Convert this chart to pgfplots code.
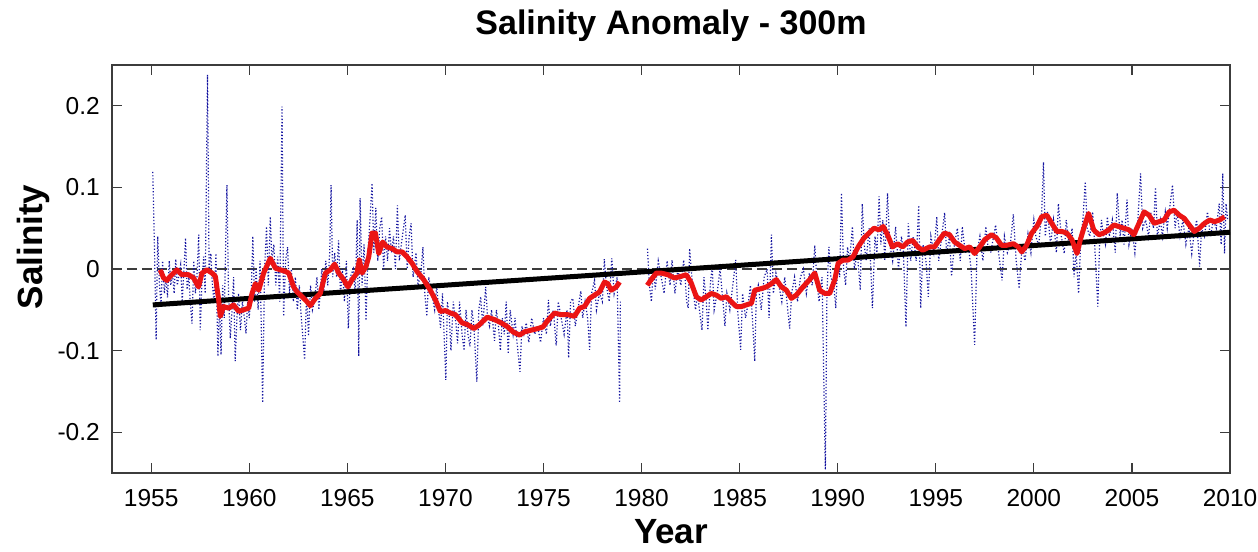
\documentclass[border=0pt]{standalone}
\usepackage{fontspec}
\setmainfont{Liberation Sans}
\usepackage{pgfplots}
\pgfplotsset{compat=1.18}
\definecolor{axgray}{RGB}{60,60,60}
\definecolor{rawblue}{RGB}{20,20,160}
\definecolor{smred}{RGB}{235,20,20}

\begin{document}
\begin{tikzpicture}
\begin{axis}[
    name=ax,
    scale only axis,
    width=1118pt, height=408pt,
    xmin=1953, xmax=2010,
    ymin=-0.25, ymax=0.25,
    xtick={1955,1960,...,2010},
    xticklabels={1955,1960,1965,1970,1975,1980,1985,1990,1995,2000,2005,2010},
    ytick={-0.2,-0.1,0,0.1,0.2},
    yticklabels={-0.2,-0.1,0,0.1,0.2},
    tick align=inside,
    major tick length=10pt,
    axis line style={axgray, line width=1.2pt},
    every tick/.style={axgray, line width=1.2pt},
    tick label style={font=\fontsize{24.5}{28}\selectfont},
    xticklabel style={anchor=base, inner sep=0pt, yshift=-34pt},
    yticklabel style={anchor=east, inner sep=0pt, xshift=-12pt},
    title={Salinity Anomaly - 300m},
    title style={font=\fontsize{34}{40}\selectfont\bfseries, at={(0.5,1)}, anchor=base, yshift=24pt},
    xlabel={Year},
    xlabel style={font=\fontsize{35}{40}\selectfont\bfseries, at={(0.5,0)}, anchor=base, inner sep=0pt, yshift=-71pt},
    ylabel={Salinity},
    ylabel style={font=\fontsize{35}{40}\selectfont\bfseries, at={(-0.0626,0.554)}, anchor=base},
    unbounded coords=jump,
]

% zero line
\addplot[axgray, line width=1.1pt, dash pattern=on 10pt off 5pt] coordinates {(1953,0) (2010,0)};

% monthly values
\addplot[rawblue, line width=1.2pt, dash pattern=on 1.2pt off 2pt] coordinates {
(1955.08,0.119)(1955.17,0.02)(1955.25,-0.087)(1955.33,0.040)(1955.42,-0.020)(1955.50,-0.045)
(1955.58,0.010)(1955.67,-0.030)(1955.75,-0.010)(1955.83,-0.035)(1955.92,0.010)(1956.00,-0.020)
(1956.08,-0.005)(1956.17,-0.030)(1956.25,0.012)(1956.33,-0.020)(1956.50,0.005)(1956.58,-0.040)
(1956.67,0.000)(1956.75,0.038)(1956.83,-0.025)(1956.92,-0.010)(1957.00,-0.045)(1957.08,-0.067)
(1957.17,0.010)(1957.25,-0.030)(1957.33,-0.010)(1957.42,0.042)(1957.50,-0.075)(1957.58,-0.020)
(1957.67,0.015)(1957.75,-0.030)(1957.87,0.238)(1957.95,0.000)(1958.04,0.019)(1958.12,-0.020)
(1958.20,-0.040)(1958.30,0.019)(1958.40,-0.107)(1958.48,-0.040)(1958.56,-0.105)(1958.64,-0.020)
(1958.72,-0.060)(1958.86,0.103)(1958.94,-0.030)(1959.03,-0.085)(1959.12,-0.050)(1959.20,-0.010)
(1959.28,-0.113)(1959.37,-0.060)(1959.45,-0.030)(1959.55,-0.075)(1959.65,-0.040)(1959.75,-0.060)
(1959.83,-0.079)(1959.92,-0.040)(1960.00,-0.060)(1960.10,-0.030)(1960.18,0.040)(1960.27,-0.040)
(1960.35,0.000)(1960.45,-0.050)(1960.55,0.010)(1960.68,-0.164)(1960.78,0.000)(1960.88,0.052)
(1960.97,-0.020)(1961.07,0.064)(1961.15,0.010)(1961.25,0.030)(1961.35,-0.020)(1961.45,0.015)
(1961.55,-0.040)(1961.67,0.199)(1961.75,-0.058)(1961.85,0.010)(1961.95,0.027)(1962.05,-0.030)
(1962.15,0.000)(1962.25,-0.040)(1962.35,-0.010)(1962.45,-0.050)(1962.55,-0.020)(1962.65,-0.060)
(1962.82,-0.111)(1962.92,-0.030)(1963.02,-0.082)(1963.12,-0.020)(1963.22,-0.050)(1963.32,-0.040)
(1963.45,-0.010)(1963.55,-0.050)(1963.70,0.000)(1963.80,-0.030)(1963.90,0.010)(1964.00,-0.020)
(1964.10,0.020)(1964.17,0.103)(1964.25,-0.010)(1964.35,0.020)(1964.45,-0.010)(1964.55,0.035)
(1964.65,-0.030)(1964.75,0.000)(1964.85,-0.040)(1964.95,0.010)(1965.05,-0.073)(1965.15,-0.010)
(1965.30,0.000)(1965.40,-0.030)(1965.50,0.060)(1965.58,-0.107)(1965.65,0.087)(1965.75,-0.020)
(1965.85,0.030)(1965.95,-0.063)(1966.05,0.020)(1966.15,0.060)(1966.26,0.105)(1966.35,0.020)
(1966.45,0.075)(1966.55,0.010)(1966.65,0.050)(1966.75,0.064)(1966.85,0.000)(1966.95,0.040)
(1967.05,0.010)(1967.15,0.050)(1967.25,0.020)(1967.35,0.040)(1967.45,0.000)(1967.55,0.078)
(1967.65,0.010)(1967.75,0.030)(1967.95,0.066)(1968.05,0.000)(1968.15,0.040)(1968.25,0.056)
(1968.35,-0.010)(1968.50,0.020)(1968.60,-0.020)(1968.75,-0.005)(1968.85,0.027)(1968.95,-0.030)
(1969.05,-0.058)(1969.15,-0.010)(1969.30,-0.030)(1969.45,-0.050)(1969.55,-0.020)(1969.65,-0.050)
(1969.75,-0.072)(1969.85,-0.030)(1970.02,-0.136)(1970.10,-0.040)(1970.20,-0.060)(1970.28,-0.100)
(1970.40,-0.040)(1970.55,-0.070)(1970.62,-0.091)(1970.72,-0.040)(1970.85,-0.080)(1970.95,-0.100)
(1971.05,-0.050)(1971.15,-0.080)(1971.25,-0.095)(1971.35,-0.050)(1971.45,-0.070)(1971.60,-0.138)
(1971.70,-0.050)(1971.80,-0.034)(1971.90,-0.070)(1972.05,-0.022)(1972.15,-0.060)(1972.25,-0.070)
(1972.35,-0.050)(1972.50,-0.088)(1972.60,-0.050)(1972.70,-0.070)(1972.80,-0.100)(1972.90,-0.060)
(1973.00,-0.080)(1973.10,-0.040)(1973.20,-0.104)(1973.30,-0.050)(1973.45,-0.080)(1973.55,-0.060)
(1973.65,-0.090)(1973.80,-0.126)(1973.90,-0.070)(1974.00,-0.080)(1974.12,-0.066)(1974.25,-0.090)
(1974.40,-0.060)(1974.55,-0.080)(1974.70,-0.070)(1974.85,-0.090)(1975.00,-0.060)(1975.15,-0.080)
(1975.25,-0.038)(1975.35,-0.070)(1975.50,-0.050)(1975.65,-0.094)(1975.75,-0.040)(1975.90,-0.060)
(1976.05,-0.080)(1976.20,-0.050)(1976.28,-0.109)(1976.38,-0.040)(1976.50,-0.036)(1976.62,-0.070)
(1976.75,-0.050)(1976.90,-0.027)(1977.00,-0.060)(1977.12,-0.040)(1977.25,-0.060)(1977.35,-0.099)
(1977.45,-0.030)(1977.60,-0.014)(1977.70,-0.050)(1977.85,-0.030)(1978.00,-0.040)(1978.10,0.012)
(1978.20,-0.020)(1978.35,-0.040)(1978.48,0.013)(1978.60,-0.030)(1978.75,-0.010)(1978.88,-0.164)
(1978.92,-0.040)(1979.5,nan)
(1980.30,0.025)(1980.40,-0.020)(1980.50,-0.040)(1980.60,0.000)(1980.70,-0.025)(1980.85,0.010)
(1981.00,-0.010)(1981.15,-0.030)(1981.30,0.010)(1981.45,-0.020)(1981.55,0.011)(1981.70,-0.030)
(1981.85,0.000)(1982.00,-0.020)(1982.15,0.011)(1982.30,-0.040)(1982.38,-0.048)(1982.45,0.025)
(1982.60,-0.020)(1982.75,-0.050)(1982.85,-0.030)(1983.00,-0.060)(1983.08,-0.075)(1983.18,-0.010)
(1983.30,-0.040)(1983.38,-0.075)(1983.50,-0.020)(1983.60,0.003)(1983.70,-0.050)(1983.85,-0.030)
(1984.00,0.000)(1984.15,-0.040)(1984.25,-0.070)(1984.35,-0.030)(1984.50,-0.050)(1984.65,-0.020)
(1984.80,0.011)(1984.90,-0.050)(1985.05,-0.099)(1985.15,-0.030)(1985.30,-0.060)(1985.45,-0.040)
(1985.55,-0.020)(1985.65,-0.060)(1985.77,-0.113)(1985.85,-0.030)(1985.95,-0.020)(1986.10,-0.050)
(1986.25,-0.010)(1986.40,0.000)(1986.50,-0.060)(1986.62,0.042)(1986.72,-0.030)(1986.85,-0.005)
(1987.00,-0.020)(1987.15,-0.040)(1987.30,-0.010)(1987.45,-0.050)(1987.55,-0.073)(1987.65,-0.030)
(1987.80,-0.010)(1987.95,-0.040)(1988.10,-0.010)(1988.25,0.000)(1988.40,-0.030)(1988.55,-0.005)
(1988.70,-0.020)(1988.83,0.029)(1988.95,-0.020)(1989.05,-0.040)(1989.20,-0.010)(1989.37,-0.246)
(1989.45,-0.030)(1989.55,0.027)(1989.65,-0.010)(1989.80,-0.020)(1989.90,-0.048)(1990.00,0.010)
(1990.10,-0.010)(1990.19,0.093)(1990.30,0.000)(1990.40,-0.020)(1990.50,0.027)(1990.60,0.010)
(1990.75,0.052)(1990.85,0.000)(1991.00,0.020)(1991.15,-0.026)(1991.25,0.080)(1991.35,0.030)
(1991.45,0.010)(1991.60,0.050)(1991.77,-0.048)(1991.90,0.040)(1992.00,0.020)(1992.11,0.089)
(1992.20,0.030)(1992.30,0.060)(1992.40,0.010)(1992.54,0.093)(1992.65,0.030)(1992.80,0.010)
(1992.95,0.052)(1993.10,0.000)(1993.25,0.040)(1993.35,0.020)(1993.48,-0.071)(1993.60,0.056)
(1993.72,0.010)(1993.85,0.040)(1994.00,0.010)(1994.13,0.078)(1994.23,-0.048)(1994.35,0.030)
(1994.50,0.010)(1994.62,-0.034)(1994.75,0.040)(1994.90,0.020)(1995.05,0.064)(1995.15,0.010)
(1995.30,0.040)(1995.45,0.069)(1995.55,0.020)(1995.70,0.040)(1995.80,-0.009)(1995.95,0.030)
(1996.10,0.050)(1996.25,0.010)(1996.35,0.052)(1996.50,0.020)(1996.65,0.030)(1996.80,0.000)
(1996.98,-0.093)(1997.10,0.020)(1997.25,0.040)(1997.40,0.010)(1997.55,0.052)(1997.65,0.030)
(1997.80,0.020)(1997.95,0.040)(1998.05,0.054)(1998.20,0.020)(1998.38,-0.014)(1998.50,0.040)
(1998.65,0.020)(1998.80,0.030)(1998.95,0.067)(1999.10,0.010)(1999.25,-0.024)(1999.40,0.030)
(1999.55,0.010)(1999.70,0.043)(1999.85,0.020)(2000.00,0.060)(2000.10,0.040)(2000.25,0.029)
(2000.40,0.070)(2000.49,0.131)(2000.58,0.040)(2000.70,0.070)(2000.85,0.030)(2001.00,0.060)
(2001.15,0.020)(2001.25,0.080)(2001.40,0.040)(2001.55,0.019)(2001.65,0.060)(2001.80,0.030)
(2001.95,0.050)(2002.05,-0.010)(2002.15,0.020)(2002.28,-0.030)(2002.40,0.040)(2002.50,0.060)
(2002.62,0.107)(2002.72,0.050)(2002.85,0.040)(2003.00,0.070)(2003.10,0.030)(2003.26,-0.046)
(2003.35,0.030)(2003.45,0.060)(2003.55,0.040)(2003.65,0.030)(2003.75,0.064)(2003.85,0.040)
(2004.00,0.060)(2004.15,0.020)(2004.25,0.093)(2004.40,0.040)(2004.50,0.060)(2004.60,0.030)
(2004.75,0.085)(2004.85,0.030)(2005.00,0.050)(2005.15,0.020)(2005.30,0.060)(2005.44,0.117)
(2005.55,0.050)(2005.70,0.060)(2005.85,0.040)(2005.95,0.070)(2006.10,0.050)(2006.20,0.100)
(2006.30,0.040)(2006.45,0.060)(2006.55,0.040)(2006.70,0.070)(2006.80,0.050)(2006.95,0.080)
(2007.07,0.103)(2007.20,0.050)(2007.30,0.070)(2007.45,0.040)(2007.60,0.060)(2007.75,0.030)
(2007.90,0.050)(2008.05,0.019)(2008.15,0.040)(2008.30,0.060)(2008.45,0.003)(2008.55,0.050)
(2008.70,0.040)(2008.85,0.070)(2009.00,0.040)(2009.15,0.060)(2009.30,0.050)(2009.45,0.080)
(2009.55,0.030)(2009.63,0.117)(2009.72,0.019)(2009.80,0.080)(2009.88,0.060)
};

% linear trend
\addplot[black, line width=5pt] coordinates {(1955.08,-0.044) (2010,0.045)};

% smoothed series
\addplot[smred, line width=5pt, line join=round] coordinates {
(1955.46,-0.001)(1955.63,-0.011)(1955.80,-0.014)(1955.97,-0.009)(1956.31,-0.001)(1956.56,-0.007)
(1956.90,-0.007)(1957.16,-0.011)(1957.41,-0.022)(1957.59,-0.005)(1957.84,-0.001)(1958.10,-0.005)
(1958.27,-0.009)(1958.44,-0.038)(1958.52,-0.058)(1958.69,-0.046)(1958.95,-0.048)(1959.20,-0.044)
(1959.46,-0.052)(1959.71,-0.050)(1959.97,-0.048)(1960.14,-0.030)(1960.31,-0.018)(1960.48,-0.026)
(1960.73,-0.005)(1961.07,0.013)(1961.33,0.001)(1961.58,-0.001)(1961.84,-0.003)(1962.01,-0.005)
(1962.26,-0.022)(1962.43,-0.028)(1962.69,-0.034)(1962.94,-0.040)(1963.11,-0.045)(1963.37,-0.036)
(1963.62,-0.030)(1963.88,-0.005)(1964.13,-0.001)(1964.35,0.006)(1964.56,-0.005)(1964.81,-0.013)
(1965.03,-0.022)(1965.24,-0.013)(1965.49,-0.005)(1965.61,0.011)(1965.75,-0.005)(1965.95,0.003)
(1966.09,0.015)(1966.26,0.044)(1966.43,0.044)(1966.60,0.019)(1966.80,0.033)(1967.02,0.027)
(1967.28,0.025)(1967.53,0.021)(1967.79,0.021)(1968.04,0.015)(1968.30,0.007)(1968.55,-0.003)
(1968.89,-0.013)(1969.23,-0.026)(1969.49,-0.038)(1969.74,-0.052)(1970.00,-0.051)(1970.26,-0.054)
(1970.51,-0.056)(1970.85,-0.066)(1971.11,-0.068)(1971.45,-0.073)(1971.70,-0.069)(1972.13,-0.059)
(1972.50,-0.062)(1972.84,-0.066)(1973.18,-0.071)(1973.44,-0.077)(1973.78,-0.081)(1974.03,-0.077)
(1974.37,-0.075)(1974.71,-0.073)(1974.97,-0.071)(1975.22,-0.063)(1975.56,-0.054)(1975.90,-0.056)
(1976.24,-0.056)(1976.58,-0.058)(1976.84,-0.048)(1977.09,-0.046)(1977.35,-0.036)(1977.60,-0.032)
(1977.86,-0.028)(1978.11,-0.016)(1978.28,-0.018)(1978.45,-0.026)(1978.71,-0.022)(1978.88,-0.016)
(1979.5,nan)
(1980.29,-0.020)(1980.49,-0.013)(1980.75,-0.005)(1981.00,-0.005)(1981.34,-0.007)(1981.68,-0.011)
(1982.02,-0.009)(1982.28,-0.007)(1982.53,-0.017)(1982.79,-0.034)(1983.04,-0.038)(1983.30,-0.034)
(1983.55,-0.030)(1983.81,-0.032)(1984.06,-0.036)(1984.32,-0.034)(1984.57,-0.040)(1984.83,-0.046)
(1985.09,-0.046)(1985.34,-0.044)(1985.60,-0.042)(1985.77,-0.026)(1986.11,-0.024)(1986.36,-0.022)
(1986.62,-0.018)(1986.87,-0.013)(1987.13,-0.022)(1987.38,-0.026)(1987.64,-0.036)(1987.89,-0.032)
(1988.23,-0.022)(1988.57,-0.013)(1988.83,-0.005)(1989.08,-0.026)(1989.34,-0.030)(1989.59,-0.030)
(1989.85,-0.013)(1990.02,0.007)(1990.27,0.011)(1990.53,0.011)(1990.78,0.015)(1991.04,0.027)
(1991.34,0.038)(1991.60,0.044)(1991.85,0.050)(1992.11,0.048)(1992.32,0.052)(1992.54,0.042)
(1992.79,0.027)(1993.05,0.031)(1993.31,0.027)(1993.56,0.033)(1993.82,0.035)(1994.08,0.027)
(1994.33,0.023)(1994.68,0.027)(1994.93,0.027)(1995.19,0.036)(1995.44,0.044)(1995.70,0.042)
(1995.96,0.033)(1996.21,0.029)(1996.47,0.025)(1996.73,0.027)(1996.98,0.019)(1997.24,0.027)
(1997.50,0.036)(1997.84,0.042)(1998.09,0.038)(1998.35,0.029)(1998.61,0.029)(1998.95,0.031)
(1999.21,0.027)(1999.38,0.021)(1999.63,0.029)(1999.89,0.044)(2000.15,0.052)(2000.40,0.064)
(2000.66,0.066)(2000.91,0.056)(2001.17,0.046)(2001.43,0.046)(2001.68,0.044)(2001.94,0.036)
(2002.20,0.019)(2002.37,0.036)(2002.57,0.052)(2002.79,0.068)(2003.05,0.048)(2003.31,0.042)
(2003.56,0.044)(2003.82,0.048)(2004.08,0.054)(2004.33,0.052)(2004.59,0.050)(2004.85,0.048)
(2005.10,0.042)(2005.36,0.056)(2005.62,0.070)(2005.87,0.066)(2006.13,0.056)(2006.38,0.058)
(2006.64,0.060)(2006.90,0.070)(2007.15,0.072)(2007.41,0.066)(2007.67,0.062)(2007.92,0.054)
(2008.18,0.046)(2008.44,0.050)(2008.70,0.056)(2008.97,0.060)(2009.21,0.058)(2009.46,0.060)
(2009.72,0.064)
};
\end{axis}
\pgfresetboundingbox
\path ([xshift=-112pt,yshift=-79pt]ax.south west) rectangle ([xshift=28pt,yshift=65pt]ax.north east);
\end{tikzpicture}
\end{document}
